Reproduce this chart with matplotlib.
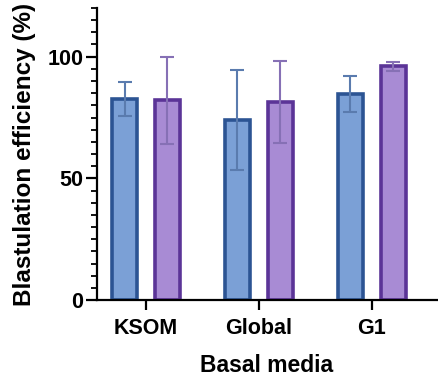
import numpy as np
import matplotlib
matplotlib.use('Agg')
from matplotlib import pyplot as plt
from matplotlib.ticker import MultipleLocator

plt.rcParams['font.family'] = ['Liberation Sans', 'DejaVu Sans']
plt.rcParams['font.weight'] = 'bold'

categories = ['KSOM', 'Global', 'G1']
means_a = [82.6, 74.1, 84.6]
err_a = [7.0, 20.5, 7.5]
means_b = [82.0, 81.4, 96.0]
err_b = [18.0, 16.8, 1.8]

x = np.arange(len(categories))
w = 0.22
off = 0.19

fig = plt.figure(figsize=(4.39, 3.78), dpi=100)
ax = fig.add_axes([0.221, 0.206, 0.774, 0.773])

ax.bar(x - off, means_a, w, color='#7BA0D6', edgecolor='#2C5493', linewidth=2.6, zorder=2)
ax.bar(x + off, means_b, w, color='#A88BD4', edgecolor='#5B3497', linewidth=2.6, zorder=2)
ax.errorbar(x - off, means_a, yerr=err_a, fmt='none', ecolor='#5A7BAE', elinewidth=1.5, capsize=4.7, capthick=1.5, zorder=3)
ax.errorbar(x + off, means_b, yerr=err_b, fmt='none', ecolor='#8670B5', elinewidth=1.5, capsize=4.7, capthick=1.5, zorder=3)

ax.set_xlim(-0.434, 2.575)
ax.set_ylim(0, 120)
ax.set_xticks(x)
ax.set_xticklabels(categories, fontsize=15.5, fontweight='bold')
ax.set_yticks([0, 50, 100])
ax.yaxis.set_minor_locator(MultipleLocator(5))
ax.tick_params(axis='y', which='major', labelsize=15.5, length=8, width=1.6, pad=2)
ax.tick_params(axis='y', which='minor', length=4, width=1.3)
ax.tick_params(axis='x', length=7, width=1.6, pad=6)
for s in ['top', 'right']:
    ax.spines[s].set_visible(False)
for s in ['left', 'bottom']:
    ax.spines[s].set_linewidth(1.6)

ax.set_xlabel('Basal media', fontsize=16.5, fontweight='bold', labelpad=11)
ax.set_ylabel('Blastulation efficiency (%)', fontsize=17.5, fontweight='bold', labelpad=8)

fig.savefig('out.png', dpi=100)
